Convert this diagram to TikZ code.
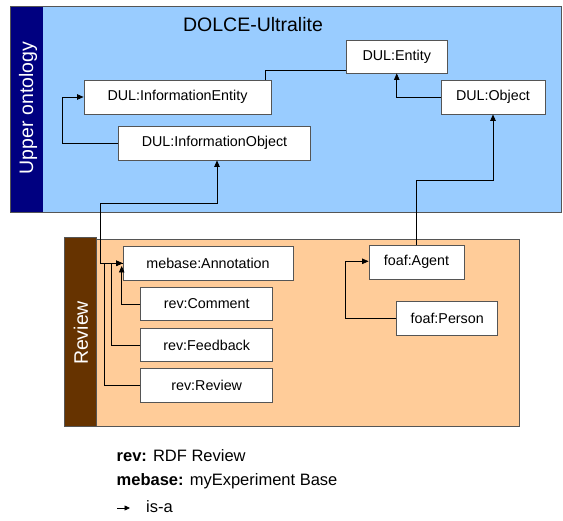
\documentclass[tikz,border=0pt]{standalone}
\usepackage{fontspec}
\setmainfont{Liberation Sans}
\usetikzlibrary{arrows.meta}
\definecolor{upperblue}{HTML}{99CCFF}
\definecolor{uppernavy}{HTML}{000080}
\definecolor{revorange}{HTML}{FFCC99}
\definecolor{revbrown}{HTML}{663300}
\definecolor{frame}{HTML}{555555}
\tikzset{
  cls/.style={draw=frame, fill=white, line width=0.8pt, inner sep=0pt,
    font=\fontsize{14.3}{16}\selectfont},
  isa/.style={draw=black, line width=0.7pt, -{Triangle[length=6.5pt,width=5.5pt]}},
  plain/.style={draw=black, line width=0.7pt},
  legend/.style={anchor=west, inner sep=0pt, font=\fontsize{16.5}{19}\selectfont},
  banner/.style={rotate=90, text=white, inner sep=0pt, font=\fontsize{19.5}{22}\selectfont},
}
\begin{document}
\begin{tikzpicture}[x=1pt, y=-1pt]
\useasboundingbox (0,0) rectangle (563,521);

% upper ontology layer
\fill[upperblue] (43,6) rectangle (561,212);
\fill[uppernavy] (10.8,6) rectangle (43,212);
\draw[frame, line width=0.8pt] (10.8,6) rectangle (561,212);
\node[banner] (uplabel) at (28,108) {Upper ontology};
\node[font=\fontsize{19.5}{22}\selectfont, inner sep=0pt] (dolce) at (253,25) {DOLCE-Ultralite};

% review layer
\fill[revorange] (96.7,239.3) rectangle (519,426);
\draw[frame, line width=0.8pt] (96.7,239.3) rectangle (519,426);
\fill[revbrown] (64,237.7) rectangle (96.7,426);
\draw[frame, line width=0.8pt] (64,237.7) rectangle (96.7,426);
\node[banner] (revlabel) at (81,333) {Review};

% classes
\node[cls, minimum width=100.5pt, minimum height=33pt] (ent) at (396.75,56.5) {DUL:Entity};
\node[cls, minimum width=187pt, minimum height=34pt] (ie) at (177.5,97) {DUL:InformationEntity};
\node[cls, minimum width=104pt, minimum height=34pt] (obj) at (493,97) {DUL:Object};
\node[cls, minimum width=192pt, minimum height=34pt] (io) at (214.5,143) {DUL:InformationObject};

\node[cls, minimum width=170pt, minimum height=33.3pt] (ann) at (208,263.3) {mebase:Annotation};
\node[cls, minimum width=132pt, minimum height=33.4pt] (com) at (206.7,304) {rev:Comment};
\node[cls, minimum width=132pt, minimum height=33.6pt] (fee) at (206.7,345) {rev:Feedback};
\node[cls, minimum width=132pt, minimum height=33.6pt] (rev) at (206.7,385.5) {rev:Review};
\node[cls, minimum width=95pt, minimum height=34pt] (agent) at (416.5,262) {foaf:Agent};
\node[cls, minimum width=101pt, minimum height=33.3pt] (person) at (447.2,318.3) {foaf:Person};

% routing points
\coordinate (annbend) at (100,203);
\coordinate (comtip) at (121.7,266);
\coordinate (agentbend) at (0,180);

% is-a links
\draw[plain] ([xshift=-6.5pt]ie.north east) |- ([yshift=-13.5pt]ent.west);
\draw[isa] (obj.west) -| (ent.south);
\draw[isa] (io.west) -- ++(-55.5,0) |- (ie.west);
\draw[isa] (ann.west) -| (annbend) -| ([xshift=2.5pt]io.south);
\draw[isa] (com.west) -| (comtip);
\draw[isa] (fee.west) -| ([xshift=-11.3pt]ann.west) -- (ann.west);
\draw[isa] (rev.west) -| ([xshift=-18pt]ann.west) -- (ann.west);
\draw[isa] (agent.north) |- (obj.south |- agentbend) -- (obj.south);
\draw[isa] (person.west) -- ++(-51,0) |- ([yshift=0.7pt]agent.west);

% legend
\node[legend] (lgrev) at (116.5,456) {\textbf{rev:} RDF Review};
\node[legend] (lgmebase) at (116.5,481) {\textbf{mebase:} myExperiment Base};
\coordinate (lgfrom) at (117,508);
\coordinate (lgto) at (130,508);
\draw[line width=0.7pt, -{Triangle[length=5.5pt,width=5pt]}] (lgfrom) -- (lgto);
\node[legend] (lgisa) at (146,506.5) {is-a};
\end{tikzpicture}
\end{document}
